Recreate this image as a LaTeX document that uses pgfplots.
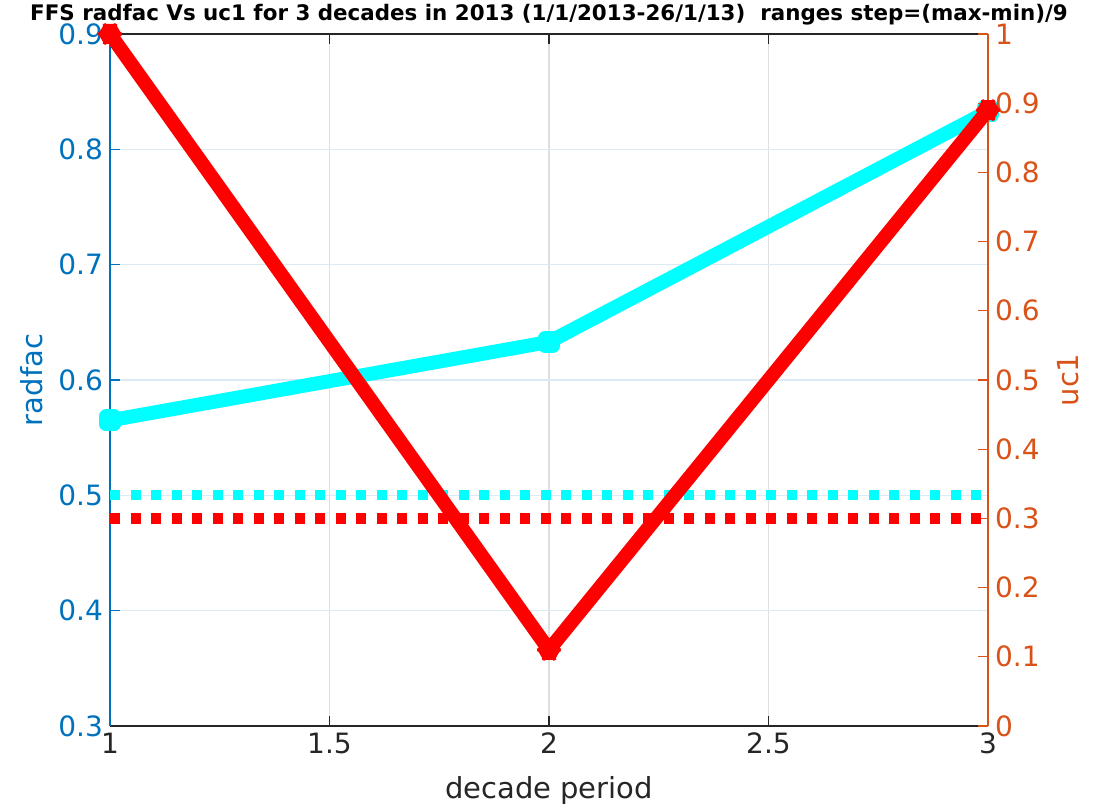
\documentclass[border=0pt]{standalone}
\usepackage{fontspec}
\setmainfont{DejaVu Sans}
\usepackage{pgfplots}
\pgfplotsset{compat=1.18}
\usetikzlibrary{calc}

\definecolor{mblue}{RGB}{0,114,189}
\definecolor{morange}{RGB}{217,83,25}
\definecolor{mgray}{RGB}{38,38,38}
\definecolor{ygrid}{RGB}{220,234,244}
\definecolor{xgrid}{RGB}{223,223,223}
\definecolor{mcyan}{RGB}{0,255,255}
\definecolor{mred}{RGB}{255,0,0}

\begin{document}
\begin{tikzpicture}
\pgfplotsset{
  every axis/.append style={
    scale only axis,
    width=439pt, height=346pt,
    xmin=1, xmax=3,
    /pgf/number format/assume math mode=true,
    tick label style={font=\fontsize{14}{16}\selectfont},
    label style={font=\fontsize{14.5}{17}\selectfont},
    tick align=inside,
    major tick length=5pt,
  },
}
\begin{axis}[
    separate axis lines,
    x axis line style={color=mgray, line width=0.6pt},
    y axis line style={color=mblue, line width=0.6pt},
    ymin=0.3, ymax=0.9,
    ytick={0.3,0.4,...,0.9},
    xtick={1,1.5,2,2.5,3},
    ytick pos=left,
    xtick pos=both,
    xticklabel pos=bottom,
    x tick style={color=mgray, line width=0.6pt},
    y tick style={color=mblue, line width=0.6pt},
    x tick label style={color=mgray},
    y tick label style={color=mblue},
    xmajorgrids, ymajorgrids,
    x grid style={color=xgrid, line width=0.6pt},
    y grid style={color=ygrid, line width=0.6pt},
    xlabel={decade period},
    ylabel={radfac},
    xlabel style={color=mgray, yshift=-4pt},
    ylabel style={color=mblue, yshift=1pt},
    title={\bfseries FFS radfac Vs uc1 for 3 decades in 2013 (1/1/2013-26/1/13)\ \ ranges step=(max-min)/9},
    title style={font=\fontsize{10.7}{12}\selectfont, color=black, yshift=-5pt},
]
\addplot[color=mcyan, line width=5pt, dash pattern=on 5pt off 5.25pt, line cap=butt] coordinates {(1,0.5) (3,0.5)};
\addplot[color=mcyan, line width=7pt, mark=square*, mark size=2pt, line join=round] coordinates {(1,0.565) (2,0.633) (3,0.833)};
\coordinate (BL) at (rel axis cs:0,0);
\coordinate (TR) at (rel axis cs:1,1);
\end{axis}
\begin{axis}[
    axis x line=none,
    axis y line*=right,
    ymin=0, ymax=1,
    ytick={0,0.1,...,1},
    y axis line style={color=morange, line width=0.6pt, -},
    y tick style={color=morange, line width=0.6pt},
    y tick label style={color=morange},
    ylabel={uc1},
    ylabel style={color=morange, yshift=-2pt},
]
\addplot[color=mred, line width=5.5pt, dash pattern=on 5pt off 5.25pt, line cap=butt] coordinates {(1,0.3) (3,0.3)};
\addplot[color=mred, line width=7pt, mark=asterisk, mark size=5pt, line join=round] coordinates {(1,1.0) (2,0.11) (3,0.89)};
\end{axis}
\pgfresetboundingbox
\path[use as bounding box] ($(BL)+(-55pt,-41.5pt)$) rectangle ($(TR)+(58.5pt,17pt)$);
\end{tikzpicture}
\end{document}
